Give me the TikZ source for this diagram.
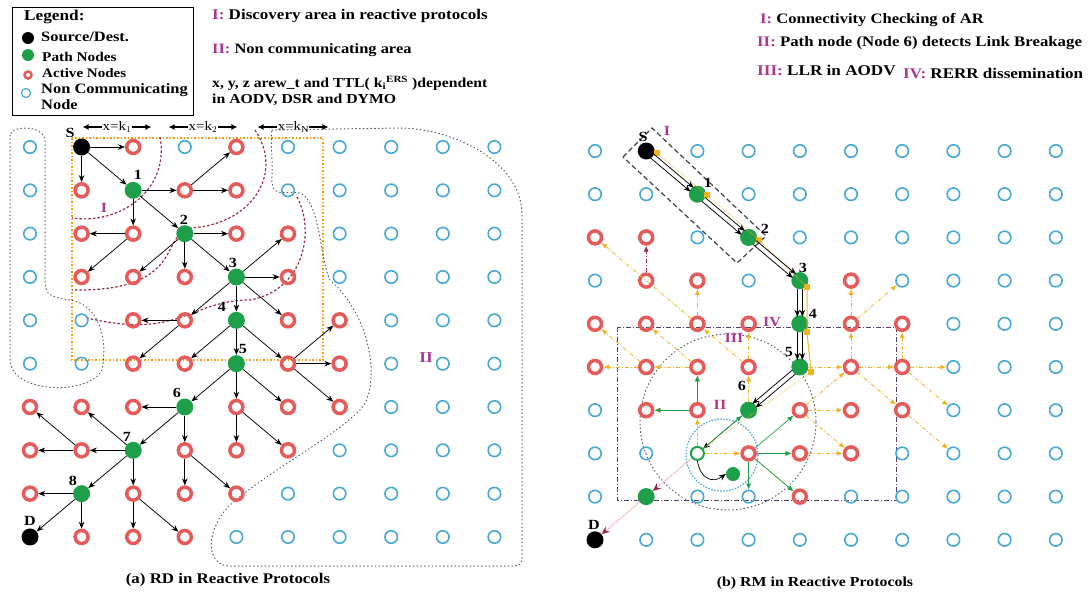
\documentclass[tikz,border=0pt]{standalone}
\usepackage{fontspec}
\setmainfont[FakeStretch=1.15]{Liberation Serif}
\usetikzlibrary{arrows.meta,calc}
\definecolor{blu}{RGB}{70,168,212}
\definecolor{rd}{RGB}{230,90,90}
\definecolor{grn}{RGB}{30,160,75}
\definecolor{mag}{RGB}{170,55,145}
\definecolor{org}{RGB}{240,180,35}
\definecolor{drd}{RGB}{150,45,70}
\definecolor{pur}{RGB}{85,60,105}
\definecolor{dotc}{RGB}{80,80,90}
\definecolor{pnk}{RGB}{235,150,150}
\newcommand\fsz[1]{\fontsize{#1}{#1}\selectfont}
\begin{document}
\begin{tikzpicture}[x=1pt,y=-1pt,font=\bfseries,
 ntype/.code={\edef\tmp{n#1}\expandafter\pgfkeysalso\expandafter{\tmp}},
 nb/.style={circle,draw=blu,line width=1.6pt,minimum size=12.5pt,inner sep=0pt},
 nd/.style={nb,label={[inner sep=0pt]center:{\tiny .}}},
 nr/.style={circle,draw=rd,line width=3.5pt,minimum size=13pt,inner sep=0pt},
 ng/.style={circle,fill=grn,minimum size=17pt,inner sep=0pt},
 nk/.style={circle,fill=black,minimum size=17pt,inner sep=0pt},
 nG/.style={circle,draw=grn,line width=2pt,minimum size=13pt,inner sep=0pt,fill=white},
 ar/.style={-{Stealth[length=7pt,width=5.5pt]},line width=0.75pt},
 yar/.style={-{Latex[length=6pt,width=5pt]},org,line width=0.8pt,dash pattern=on 4pt off 2pt on 1pt off 2pt},
 gar/.style={-{Latex[length=6pt,width=5pt]},grn,line width=0.7pt},
 sq/.style={fill=org,minimum size=6pt,inner sep=0pt},
 lab/.style={font=\bfseries\fsz{14},inner sep=0pt},
 rom/.style={font=\bfseries\fsz{14},text=mag,inner sep=0pt},
 txt/.style={inner sep=0pt,anchor=west},
 reg/.style={drd,line width=1.2pt,dash pattern=on 2.5pt off 2pt},
 nca/.style={dotc,line width=1pt,dash pattern=on 0.8pt off 3pt,line cap=round},
]
\useasboundingbox (0,0) rectangle (1091,598);

% ---------- legend ----------
\node[draw,line width=0.8pt,minimum width=181pt,minimum height=108pt,anchor=north west] (leg) at (12,7) {};
\node[txt,font=\bfseries\fsz{15}] (legt) at (24,17) {Legend:};
\node[nk,minimum size=12pt] (l1) at (28,38) {};
\node[txt,font=\bfseries\fsz{14.3}] (l1t) at (41,37) {Source/Dest.};
\node[ng,minimum size=12pt] (l2) at (28,55) {};
\node[txt,font=\bfseries\fsz{13.3}] (l2t) at (42,57) {Path Nodes};
\node[nr,minimum size=7pt,line width=2.5pt] (l3) at (28,75) {};
\node[txt,font=\bfseries\fsz{13.1}] (l3t) at (42,73) {Active Nodes};
\node[nb,minimum size=9pt,line width=1.2pt] (l4) at (26,93) {};
\node[txt,align=left,font=\bfseries\fontsize{14.3}{16}\selectfont,anchor=north west] (l4t) at (41,83) {Non Communicating\\Node};

% ---------- top texts ----------
\node[txt,font=\bfseries\fsz{14.8}] (t1) at (212,16) {\textcolor{mag}{I:} Discovery area in reactive protocols};
\node[txt,font=\bfseries\fsz{14.3}] (t2) at (212,50) {\textcolor{mag}{II:} Non communicating area};
\node[txt,align=left,anchor=north west,font=\bfseries\fontsize{13.7}{16}\selectfont] (t3) at (212,76) {x, y, z arew\_t and TTL( k\textsubscript{i}\textsuperscript{ERS} )dependent\\in AODV, DSR and DYMO};
\node[txt,font=\bfseries\fsz{14.4}] (t4) at (760,20) {\textcolor{mag}{I:} Connectivity Checking of AR};
\node[txt,font=\bfseries\fsz{14.6}] (t5) at (757,43) {\textcolor{mag}{II:} Path node (Node 6) detects Link Breakage};
\node[txt,font=\bfseries\fsz{14.9}] (t6) at (757,70) {\textcolor{mag}{III:} LLR in AODV};
\node[txt,font=\bfseries\fsz{14.8}] (t7) at (903,73) {\textcolor{mag}{IV:} RERR dissemination};

% ---------- k arrows ----------
\foreach \n/\x/\k in {ka/117/{k$_1$},kb/203/{k$_2$},kc/293/{k$_{\mathrm N}$}} {
  \node[font=\fsz{13},inner sep=1pt] (\n) at (\x,127) {x=\k};
  \draw[-{Latex[length=6pt,width=6pt]},line width=1.6pt] (\n.west) -- ++(-19,0);
  \draw[-{Latex[length=6pt,width=6pt]},line width=1.6pt] (\n.east) -- ++(19,0);
}

% ---------- regions left ----------
\draw[orange!80!yellow,line width=1.2pt,dash pattern=on 1.5pt off 2pt] (72,138) rectangle (323,360);
\draw[reg] (160,137) .. controls (170,190) and (120,225) .. (72,218);
\draw[reg] (255,130) .. controls (285,175) and (250,225) .. (190,228) .. controls (160,235) and (185,292) .. (72,290);
\draw[reg] (297,197) .. controls (315,230) and (305,290) .. (250,300) .. controls (190,300) and (180,340) .. (87,318);
\draw[nca] (10,135) -- (10,360) .. controls (12,395) and (90,395) .. (102,370) .. controls (108,340) and (100,305) .. (70,300) .. controls (50,297) and (45,295) .. (45,280) -- (45,140) .. controls (43,125) and (12,125) .. (10,135);
\draw[nca] (272,130) -- (400,128) .. controls (450,128) and (522,160) .. (522,215) -- (522,560) .. controls (522,566) and (516,566) .. (510,566) -- (230,566) .. controls (205,566) and (205,530) .. (230,505) .. controls (270,470) and (330,440) .. (360,410) .. controls (380,390) and (375,320) .. (330,280) .. controls (320,260) and (320,200) .. (300,193) .. controls (285,190) and (270,200) .. (272,175) .. controls (273,160) and (270,140) .. (272,130);

% ---------- left grid ----------
\foreach \rowlist [count=\r] in {
 {b,k,r,b,r,b,b,b,b,b},
 {b,r,g,r,r,b,b,b,b,b},
 {b,r,r,g,r,r,b,b,b,b},
 {b,r,r,r,g,r,b,b,b,b},
 {b,b,r,r,g,r,r,b,b,b},
 {b,b,r,r,g,r,r,b,b,b},
 {r,r,r,g,r,r,r,b,b,b},
 {r,r,g,r,r,r,b,b,b,b},
 {r,g,r,r,r,b,b,b,b,b},
 {k,r,r,r,b,b,b,b,b,b}} {
  \foreach \t [count=\c] in \rowlist {
    \node[ntype=\t] (L\c-\r) at ({30+51.6*(\c-1)},{147+43.33*(\r-1)}) {};
  }
}
\foreach \a/\b in {2-1/3-1,2-1/2-2,2-1/3-2,3-2/4-2,3-2/3-3,3-2/4-3,3-3/2-3,3-3/2-4,
 4-2/5-1,4-2/5-2,4-3/5-3,4-3/4-4,4-3/3-4,4-3/5-4,5-4/6-3,5-4/6-4,5-4/4-5,5-4/5-5,5-4/6-5,
 4-5/3-5,4-5/3-6,5-5/4-6,5-5/5-6,5-5/6-6,6-6/7-5,6-6/7-6,6-6/7-7,5-6/4-7,5-6/5-7,5-6/6-7,
 4-7/3-7,4-7/3-8,4-7/4-8,3-8/2-7,3-8/2-8,2-8/1-8,2-8/1-7,3-8/2-9,3-8/3-9,2-9/1-9,2-9/1-10,2-9/2-10,
 3-9/3-10,3-9/4-10,4-8/4-9,4-8/5-9,5-7/5-8,5-7/6-8}
  \draw[ar] (L\a) -- (L\b);
\foreach \n/\p/\s in {S/{70,133}/S,1/{138,175}/1,2/{184,220}/2,3/{233,263}/3,4/{222,307}/4,5/{243,349}/5,6/{177,393}/6,7/{127,437}/7,8/{73,481}/8,D/{30,521}/D}
  \node[lab] (ll\n) at (\p) {\s};
\node[rom] (lI) at (104,208) {I};
\node[rom,font=\bfseries\fsz{15}] (lII) at (426,358) {II};

% ---------- right regions ----------
\draw[pur,line width=0.8pt,dash pattern=on 5pt off 2pt on 1pt off 2pt] (617,327) rectangle (896,500);
\draw[dotc,line width=1pt,dash pattern=on 0.8pt off 3pt,line cap=round] (728,422) circle (88);
\draw[blu,line width=1.2pt,dash pattern=on 1.5pt off 1.5pt] (722,455) circle (36);
\draw[dotc!80!black,line width=1.2pt,dash pattern=on 5pt off 3pt] (623,157) -- (652,128) -- (766,236) -- (737,263) -- cycle;

% ---------- right grid ----------
\foreach \rowlist [count=\r] in {
 {b,k,b,b,b,b,b,b,b,b},
 {b,b,g,b,b,b,b,b,b,b},
 {r,r,b,g,b,b,b,b,b,b},
 {b,r,r,b,g,r,b,b,b,b},
 {r,r,r,r,g,r,r,b,b,b},
 {r,r,r,r,g,r,r,b,b,b},
 {b,r,r,g,r,r,r,b,b,b},
 {b,d,G,r,r,r,b,b,b,b},
 {b,g,b,b,r,b,b,b,b,b},
 {k,b,b,b,b,b,b,b,b,b}} {
  \foreach \t [count=\c] in \rowlist {
    \node[ntype=\t] (R\c-\r) at ({595+51.2*(\c-1)},{151+43.2*(\r-1)}) {};
  }
}
\node[ng,minimum size=14pt] (gm) at (733,474) {};
% yellow squares
\foreach \n/\p in {q0/{657,153},q1/{707,195},q2/{759,240},q3/{807,287},q4/{807,332},q5/{811,372}}
  \node[sq] (\n) at (\p) {};
\foreach \a/\b in {q0/q1,q1/q2,q2/q3}
  \draw[org,line width=0.7pt,densely dotted] (\a) -- (\b);
\draw[org,line width=1pt] (q3) -- (q4) -- (q5);
% path arrows
\foreach \a/\b in {2-1/3-2,3-2/4-3,4-3/5-4,5-4/5-5,5-5/5-6,5-6/4-7} {
  \draw[ar,shorten <=8pt,shorten >=7pt] ($(R\a)!2.5pt!90:(R\b)$) -- ($(R\b)!2.5pt!-90:(R\a)$);
  \draw[ar,shorten <=8pt,shorten >=7pt] ($(R\a)!2.5pt!-90:(R\b)$) -- ($(R\b)!2.5pt!90:(R\a)$);
}
\draw[ar,line width=0.5pt] (R4-7) -- (R3-8);
% RERR arrows
\foreach \a/\b in {5-6/6-6,6-6/6-5,6-5/6-4,6-5/7-4,6-6/7-6,7-6/8-6,7-6/7-5,6-6/7-7,7-6/8-7,5-7/6-7,5-7/6-6,
 4-6/4-5,4-6/3-5,3-5/3-4,3-5/1-3,3-6/2-6,2-6/1-6,2-6/1-5,3-6/2-5,4-7/4-6,3-7/3-6,3-7/2-7,3-8/3-7,3-8/4-8,4-8/5-8,4-8/5-9,5-8/6-8,5-7/6-8,7-7/8-8}
  \draw[yar] (R\a) -- (R\b);
\draw[-{Latex[length=6pt,width=5pt]},drd,line width=0.8pt,dash pattern=on 4pt off 2pt on 1pt off 2pt] (R2-4) -- (R2-3);
\foreach \a/\b in {3-7/3-6,3-7/2-7,3-8/4-7,4-8/5-8,4-8/4-9,4-8/5-7,4-8/5-9}
  \draw[gar] (R\a) -- (R\b);
\draw[org,line width=0.6pt,densely dotted] (q5) -- (R3-8);
\draw[-{Stealth[length=7pt,width=6pt]},line width=0.7pt] (R3-8.south) .. controls (700,478) and (712,484) .. (gm.west);
\draw[pnk,line width=1pt,densely dotted,-{Stealth[length=8pt,width=7pt,color=drd]}] (R3-8) -- (R2-9);
\draw[pnk,line width=1pt,densely dotted,-{Stealth[length=8pt,width=7pt,color=drd]}] (R2-9) -- (R1-10);

\foreach \n/\p/\s in {S/{643,137}/S,1/{708,183}/1,2/{765,229}/2,3/{803,268}/3,4/{813,314}/4,5/{789,352}/5,6/{742,386}/6,D/{594,525}/D}
  \node[lab] (rl\n) at (\p) {\s};
\node[rom] (rI) at (667,131) {I};
\node[rom] (rII) at (720,405) {II};
\node[rom] (rIII) at (734,338) {III};
\node[rom] (rIV) at (772,322) {IV};

% ---------- captions ----------
\node[font=\bfseries\fsz{14.7}] (ca) at (228,580) {(a) RD in Reactive Protocols};
\node[font=\bfseries\fsz{13.8}] (cb) at (815,583) {(b) RM in Reactive Protocols};
\end{tikzpicture}
\end{document}
